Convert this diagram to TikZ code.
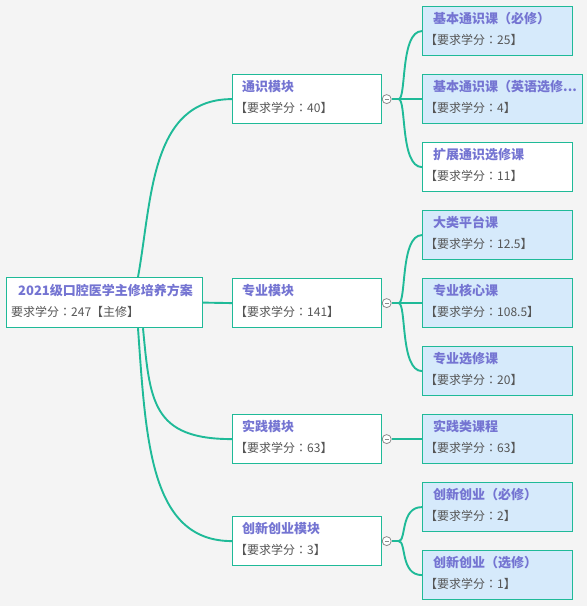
\documentclass[tikz,border=0pt]{standalone}
\usepackage{fontspec}
\setmainfont{Noto Sans CJK SC}
\newfontfamily\tcfont{Noto Sans CJK TC}
\newcommand\cl{{\tcfont ：}}
\definecolor{mmbg}{HTML}{F4F4F4}
\definecolor{mmline}{HTML}{1FBA98}
\definecolor{mmblue}{HTML}{D6EAFB}
\definecolor{mmtitle}{HTML}{7474D2}
\definecolor{mmsub}{HTML}{555555}
\definecolor{mmfold}{HTML}{8A8A8A}
\newcommand\mmtopic[9]{%
  \node[box, fill=#6, minimum width=#4pt, minimum height=#5pt] (#1) at (#2,#3) {};
  \node[ttl] (#1-t) at (#2+#9,#3+17.5) {#7};
  \node[sub] (#1-s) at (#2+3,#3+38) {#8};
}
\begin{document}
\begin{tikzpicture}[x=1pt,y=-1pt,
  box/.style={draw=mmline, line width=1.2pt, rectangle, inner sep=0pt, anchor=north west},
  ttl/.style={font=\bfseries\fontsize{13}{15}\selectfont, text=mmtitle, inner sep=0pt, anchor=base west},
  sub/.style={font=\fontsize{12}{14}\selectfont, text=mmsub, inner sep=0pt, anchor=base west},
  conn/.style={draw=mmline, line width=1.9pt},
  fold/.style={circle, draw=mmfold, fill=white, minimum size=9pt, inner sep=0pt, line width=0.8pt,
    path picture={\draw[mmfold, line width=0.8pt] ([xshift=-2pt]path picture bounding box.center) -- ([xshift=2pt]path picture bounding box.center);}}
]
\fill[mmbg] (0,0) rectangle (587,606);
\useasboundingbox (0,0) rectangle (587,606);

% root
\node[box, fill=white, minimum width=196pt, minimum height=50pt] (rt) at (6,277) {};
\node[ttl] (rt-t) at (18,295.5) {2021级口腔医学主修培养方案};
\node[sub] (rt-s) at (11,316) {要求学分\cl 247【主修】};

% level 1
\mmtopic{tx}{232}{74}{149}{49}{white}{通识模块}{【要求学分\cl 40】}{10}
\mmtopic{zy}{232}{278}{149}{49}{white}{专业模块}{【要求学分\cl 141】}{10}
\mmtopic{sj}{232}{414}{149}{49}{white}{实践模块}{【要求学分\cl 63】}{10}
\mmtopic{cx}{232}{516}{149}{49}{white}{创新创业模块}{【要求学分\cl 3】}{10}

% level 2
\mmtopic{a1}{422}{6}{150}{49}{mmblue}{基本通识课（必修）}{【要求学分\cl 25】}{11}
\mmtopic{a2}{422}{74}{160}{49}{mmblue}{基本通识课（英语选修...}{【要求学分\cl 4】}{11}
\mmtopic{a3}{422}{142}{150}{49}{white}{扩展通识选修课}{【要求学分\cl 11】}{11}
\mmtopic{b1}{422}{210}{150}{49}{mmblue}{大类平台课}{【要求学分\cl 12.5】}{11}
\mmtopic{b2}{422}{278}{150}{49}{mmblue}{专业核心课}{【要求学分\cl 108.5】}{11}
\mmtopic{b3}{422}{346}{150}{49}{mmblue}{专业选修课}{【要求学分\cl 20】}{11}
\mmtopic{c1}{422}{414}{150}{49}{mmblue}{实践类课程}{【要求学分\cl 63】}{11}
\mmtopic{d1}{422}{482}{150}{49}{mmblue}{创新创业（必修）}{【要求学分\cl 2】}{11}
\mmtopic{d2}{422}{550}{150}{49}{mmblue}{创新创业（选修）}{【要求学分\cl 1】}{11}

% root connectors
\draw[conn] ([xshift=132pt]rt.north west) .. controls +(14,-77) and +(-82,0) .. (tx.west);
\draw[conn] (rt.east) -- (zy.west);
\draw[conn] ([xshift=137pt]rt.south west) .. controls +(7,73) and +(-80,0) .. (sj.west);
\draw[conn] ([xshift=132pt]rt.south west) .. controls +(8,113) and +(-82,0) .. (cx.west);

% fold markers and branches
\foreach \p in {tx,zy,sj,cx}{
  \node[fold] (\p-f) at ([xshift=4.5pt]\p.east) {};
  \coordinate (\p-b) at ([xshift=7pt]\p-f.east);
  \draw[conn] (\p-f.east) -- (\p-b);
}
\foreach \p/\c in {tx/a1,tx/a3,zy/b1,zy/b3,cx/d1,cx/d2}{
  \draw[conn] (\p-b) .. controls +(8,0) and +(-22,0) .. (\c.west);
}
\draw[conn] (tx-b) -- (a2.west);
\draw[conn] (zy-b) -- (b2.west);
\draw[conn] (sj-b) -- (c1.west);
\end{tikzpicture}
\end{document}
